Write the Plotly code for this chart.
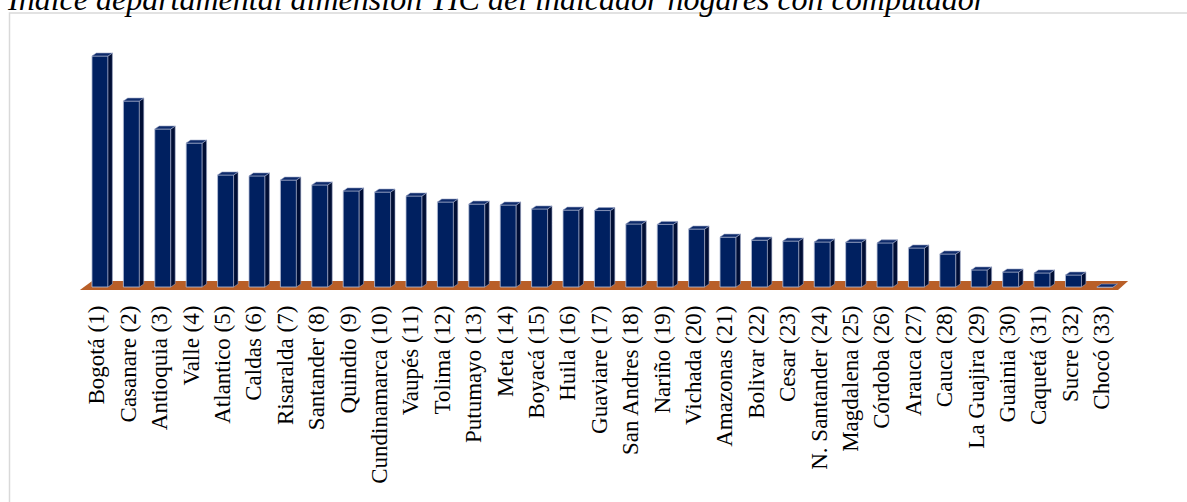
import plotly.graph_objects as go

# Departamentos (orden del ranking) y valor del índice (0-100)
departamentos = [
    "Bogotá (1)", "Casanare (2)", "Antioquia (3)", "Valle (4)", "Atlantico (5)",
    "Caldas (6)", "Risaralda (7)", "Santander (8)", "Quindio (9)", "Cundinamarca (10)",
    "Vaupés (11)", "Tolima (12)", "Putumayo (13)", "Meta (14)", "Boyacá (15)",
    "Huila (16)", "Guaviare (17)", "San Andres (18)", "Nariño (19)", "Vichada (20)",
    "Amazonas (21)", "Bolivar (22)", "Cesar (23)", "N. Santander (24)", "Magdalena (25)",
    "Córdoba (26)", "Arauca (27)", "Cauca (28)", "La Guajira (29)", "Guainia (30)",
    "Caquetá (31)", "Sucre (32)", "Chocó (33)",
]
indice = [
    100.0, 80.5, 68.4, 62.3, 48.5,
    48.1, 46.3, 44.2, 41.6, 41.1,
    39.4, 36.8, 35.9, 35.5, 33.8,
    33.3, 33.1, 27.3, 27.1, 25.1,
    21.6, 20.3, 19.9, 19.5, 19.4,
    19.1, 16.9, 14.3, 7.4, 6.5,
    6.1, 5.2, 0.0,
]
titulo = "Índice departamental dimensión TIC del indicador hogares con computador"

W, H = 1187, 502
L, R, T, B = 78, 57, 30, 202
pw, ph = W - L - R, H - T - B
y_min, y_max = -5.63, 111.26

def px_x(p):
    return (p - L) / pw

def px_y(p):
    return (H - B - p) / ph

n = len(indice)
idx = list(range(n))
bw = 0.51          # ancho de la cara frontal
dx, dy = 0.14, 1.3  # profundidad 3D

front_col = "#002060"
side_col = "#000E35"
top_col = "#0D2A6A"

side_x, side_y, top_x, top_y = [], [], [], []
for i, v in zip(idx, indice):
    xl, xr = i - bw / 2, i + bw / 2
    side_x += [xr, xr + dx, xr + dx, xr, xr, None]
    side_y += [0, dy, v + dy, v, 0, None]
    top_x += [xl, xr, xr + dx, xl + dx, xl, None]
    top_y += [v, v, v + dy, v + dy, v, None]

fig = go.Figure()
fig.add_trace(go.Bar(
    x=idx, y=indice, width=bw,
    marker=dict(color=front_col, line=dict(color="#B8C0D8", width=0.8)),
    hoverinfo="skip", showlegend=False,
))
fig.add_trace(go.Scatter(
    x=side_x, y=side_y, mode="lines", fill="toself", fillcolor=side_col,
    line=dict(color="#9AA4C4", width=0.6), hoverinfo="skip", showlegend=False,
))
fig.add_trace(go.Scatter(
    x=top_x, y=top_y, mode="lines", fill="toself", fillcolor=top_col,
    line=dict(color="#9AA4C4", width=0.6), hoverinfo="skip", showlegend=False,
))

# piso naranja
fx0, fx1 = -0.64, n - 1 + 0.42
fig.add_shape(
    type="path", xref="x", yref="y", layer="below",
    path=f"M {fx0},-1.3 L {fx1},-1.3 L {fx1 + 0.32},2.6 L {fx0 + 0.39},2.6 Z",
    fillcolor="#B95F28", line=dict(width=0),
)

# marco gris
fig.add_shape(
    type="rect", xref="paper", yref="paper",
    x0=px_x(9.5), x1=px_x(1300), y0=px_y(600), y1=px_y(13),
    line=dict(color="#D9D9D9", width=1.5), fillcolor="rgba(0,0,0,0)",
)

fig.add_annotation(
    text=titulo, xref="paper", yref="paper",
    x=px_x(5), y=px_y(19), xanchor="left", yanchor="bottom",
    showarrow=False,
    font=dict(family="Liberation Serif", size=32, color="black", style="italic"),
)

fig.update_layout(
    width=W, height=H,
    margin=dict(l=L, r=R, t=T, b=B),
    paper_bgcolor="white", plot_bgcolor="white",
    xaxis=dict(
        range=[-0.7, n - 1 + 0.8], tickvals=[i - 0.1 for i in idx], ticktext=departamentos,
        tickangle=-90, showgrid=False, zeroline=False, showline=False, ticks="",
        tickfont=dict(family="Liberation Serif", size=23, color="black"),
    ),
    yaxis=dict(range=[y_min, y_max], visible=False),
)

fig.write_html(
    "out.html",
    config={"displayModeBar": False},
    post_script="document.body.style.margin='0';document.body.style.overflow='hidden';",
)
